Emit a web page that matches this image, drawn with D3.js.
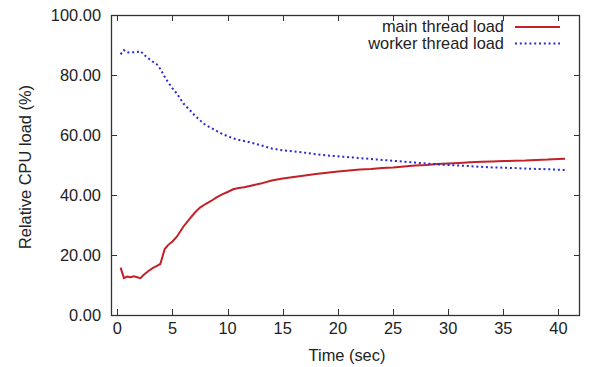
<!DOCTYPE html>
<html><head><meta charset="utf-8">
<script src="https://cdn.jsdelivr.net/npm/d3@7"></script>
<style>body{margin:0;background:#fff}text{font-family:"Liberation Sans",Arial,sans-serif;fill:#222}</style>
</head><body>
<script>
const times = [0.3,0.6,0.9,1.2,1.5,1.8,2.1,2.4,2.8,3.2,3.6,3.9,4.3,4.6,5.0,5.4,6.0,6.5,7.0,7.5,8.0,8.5,9.0,9.5,10.0,10.5,11,11.5,12,13,14,15,16,17,18,19,20,21,22,23,24,25,26,27,28,29,30,31,32,33,34,35,36,37,38,39,40,40.6];
const mainLoad = [15.8,12.3,12.8,12.6,12.9,12.6,12.3,13.4,14.6,15.6,16.4,17.0,22.0,23.3,24.5,26.1,29.5,31.8,34.0,35.8,37.0,38.0,39.2,40.2,41.0,41.9,42.3,42.6,43.0,43.8,44.8,45.5,46.0,46.5,47.0,47.4,47.8,48.2,48.5,48.7,49.0,49.2,49.5,49.8,50.0,50.3,50.5,50.7,50.9,51.1,51.2,51.3,51.4,51.5,51.7,51.8,52.0,52.1];
const workerLoad = [86.9,88.3,87.5,87.6,87.6,87.7,88.0,86.8,85.6,84.5,83.5,82.0,79.4,77.6,75.6,73.8,70.5,68.6,66.6,64.9,63.3,62.4,61.4,60.4,59.6,58.9,58.4,58.0,57.6,56.6,55.5,54.9,54.5,54.1,53.6,53.2,52.9,52.6,52.3,52.0,51.7,51.4,51.1,50.8,50.5,50.2,50.0,49.8,49.6,49.4,49.2,49.1,49.0,48.8,48.7,48.6,48.4,48.3];
const xTicks = [0,5,10,15,20,25,30,35,40];
const yTicks = [0,20,40,60,80,100];
const seriesNames = ["main thread load","worker thread load"];

const W=591,H=367;
const L=111,R=580,T=15,B=315;
const svg=d3.select("body").append("svg").attr("width",W).attr("height",H);
const x=d3.scaleLinear().domain([-0.57,41.95]).range([L,R]);
const y=d3.scaleLinear().domain([0,100]).range([B,T]);
const fs=16.4, axisCol="#333";

const g=svg.append("g");
xTicks.forEach(t=>{
  const px=Math.round(x(t))+0.5;
  g.append("line").attr("x1",px).attr("x2",px).attr("y1",B).attr("y2",B-6).attr("stroke",axisCol);
  g.append("line").attr("x1",px).attr("x2",px).attr("y1",T).attr("y2",T+6).attr("stroke",axisCol);
  g.append("text").attr("x",x(t)).attr("y",334).attr("text-anchor","middle").attr("font-size",fs).text(t);
});
yTicks.forEach(t=>{
  const py=Math.round(y(t))+0.5;
  g.append("line").attr("x1",L).attr("x2",L+6).attr("y1",py).attr("y2",py).attr("stroke",axisCol);
  g.append("line").attr("x1",R).attr("x2",R-6).attr("y1",py).attr("y2",py).attr("stroke",axisCol);
  g.append("text").attr("x",101).attr("y",y(t)+5.5).attr("text-anchor","end").attr("font-size",fs).text(t.toFixed(2));
});
svg.append("rect").attr("x",L+0.5).attr("y",T+0.5).attr("width",R-L-1).attr("height",B-T).attr("fill","none").attr("stroke",axisCol).attr("stroke-width",1.3);

svg.append("text").attr("x",347).attr("y",361).attr("text-anchor","middle").attr("font-size",fs).text("Time (sec)");
svg.append("text").attr("transform","translate(31,167) rotate(-90)").attr("text-anchor","middle").attr("font-size",fs).text("Relative CPU load (%)");

const line=d3.line().x((d,i)=>x(times[i])).y(d=>y(d));
svg.append("path").datum(mainLoad).attr("d",line).attr("fill","none").attr("stroke","#c42027").attr("stroke-width",2);
svg.append("path").datum(workerLoad).attr("d",line).attr("fill","none").attr("stroke","#2a2ad0").attr("stroke-width",2).attr("stroke-dasharray","2,2.8");

const lg=svg.append("g");
lg.append("text").attr("x",504).attr("y",32).attr("text-anchor","end").attr("font-size",fs).text(seriesNames[0]);
lg.append("text").attr("x",504).attr("y",48.5).attr("text-anchor","end").attr("font-size",fs).text(seriesNames[1]);
lg.append("line").attr("x1",515).attr("x2",560).attr("y1",27).attr("y2",27).attr("stroke","#c42027").attr("stroke-width",2);
lg.append("line").attr("x1",515).attr("x2",560).attr("y1",43.5).attr("y2",43.5).attr("stroke","#2a2ad0").attr("stroke-width",2).attr("stroke-dasharray","2,2.8");
</script>
</body></html>
